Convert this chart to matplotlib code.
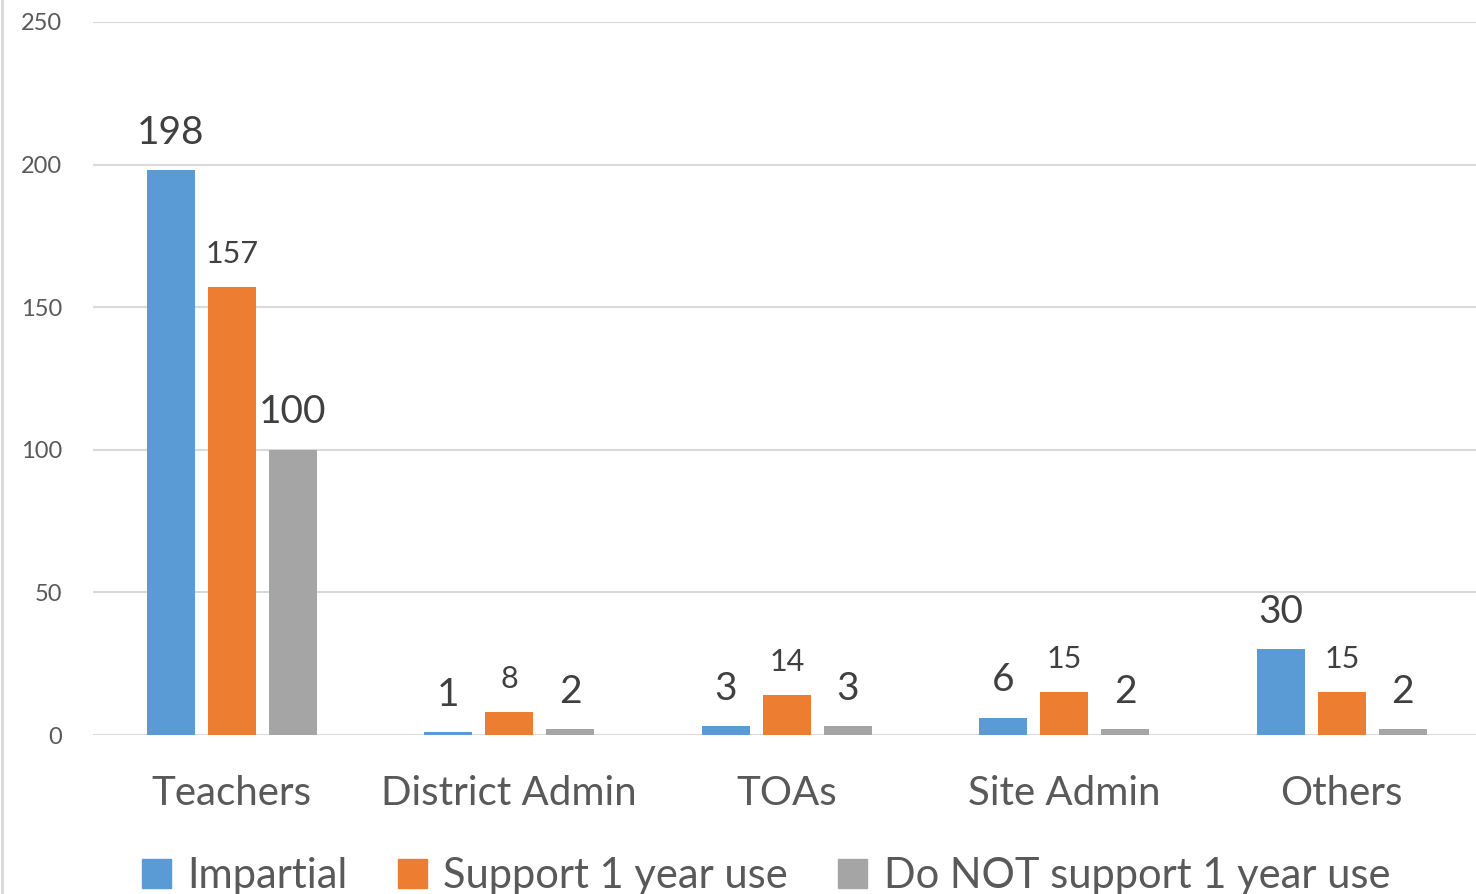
import numpy as np
import matplotlib.pyplot as plt
from matplotlib.patches import Patch
from matplotlib.lines import Line2D

# Data
categories = ["Teachers", "District Admin", "TOAs", "Site Admin", "Others"]
series_names = ["Impartial", "Support 1 year use", "Do NOT support 1 year use"]
impartial = [198, 1, 3, 6, 30]
support = [157, 8, 14, 15, 15]
not_support = [100, 2, 3, 2, 2]
yticks = [0, 50, 100, 150, 200, 250]

colors = ["#5b9bd5", "#ed7d31", "#a5a5a5"]
label_sizes = [28, 22, 28]

plt.rcParams['font.family'] = ['Lato', 'DejaVu Sans']

fig = plt.figure(figsize=(14.76, 8.94), dpi=100)
ax = fig.add_axes([93/1476, 1 - 735/894, 1387.5/1476, 713/894])

x = np.arange(len(categories))
width = 0.173
step = 0.22

for i, (vals, col) in enumerate(zip([impartial, support, not_support], colors)):
    bars = ax.bar(x + (i - 1) * step, vals, width, color=col, zorder=3)
    for b, v in zip(bars, vals):
        ax.annotate(str(v), (b.get_x() + b.get_width() / 2, v),
                    xytext=(0, 14), textcoords="offset points",
                    ha="center", va="bottom", fontsize=label_sizes[i], color="#404040")

ax.set_xlim(-0.5, 4.5)
ax.set_ylim(0, 250)
ax.set_yticks(yticks)
ax.set_xticks(x)
ax.set_xticklabels(categories, fontsize=29, color="#595959")
ax.tick_params(axis="y", labelsize=17, colors="#595959", length=0, pad=22)
ax.tick_params(axis="x", length=0, pad=29)
ax.grid(axis="y", color="#d9d9d9", linewidth=1.5, zorder=0)
for s in ax.spines.values():
    s.set_visible(False)

# left border of the chart area
fig.add_artist(Line2D([2/1476, 2/1476], [0, 1], color="#d9d9d9", linewidth=2, transform=fig.transFigure))

handles = [Patch(color=c) for c in colors]
fig.legend(handles, series_names, loc="center", bbox_to_anchor=(0.519, (894 - 876) / 894),
           ncol=3, frameon=False, fontsize=30, labelcolor="#595959",
           handlelength=0.7, handleheight=0.7, handletextpad=0.4, columnspacing=1.2)

fig.savefig("out.png", dpi=100)
